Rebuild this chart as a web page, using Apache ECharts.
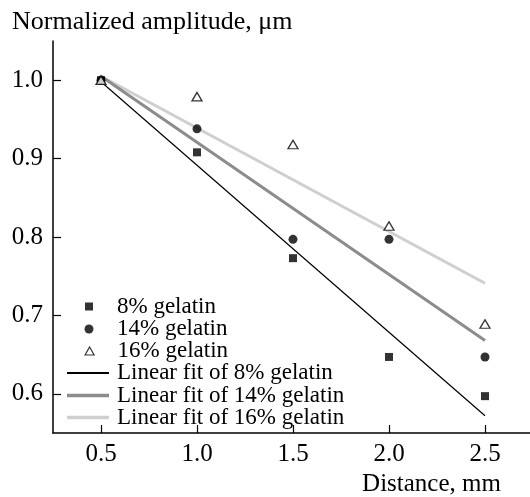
<!DOCTYPE html>
<html><head><meta charset="utf-8">
<script src="https://cdn.jsdelivr.net/npm/echarts@6/dist/echarts.min.js"></script>
<style>html,body{margin:0;padding:0;background:#fff}#c{width:530px;height:497px}</style>
</head><body><div id="c"></div>
<script>
const distance = [0.5, 1.0, 1.5, 2.0, 2.5];
const gel8 = [1.0, 0.908, 0.773, 0.647, 0.597];
const gel14 = [1.0, 0.938, 0.797, 0.797, 0.647];
const gel16 = [1.0, 0.979, 0.918, 0.814, 0.689];
const fitX = [0.5, 2.5];
const fit8 = [0.998, 0.572];
const fit14 = [1.005, 0.668];
const fit16 = [1.005, 0.741];
const xTicks = [0.5, 1.0, 1.5, 2.0, 2.5];
const yTicks = [0.6, 0.7, 0.8, 0.9, 1.0];
const names = ['8% gelatin','14% gelatin','16% gelatin','Linear fit of 8% gelatin','Linear fit of 14% gelatin','Linear fit of 16% gelatin'];

const pair = (xs, ys) => xs.map((x, i) => [x, ys[i]]);
const font = 'Liberation Serif';
const rowCenters = [306, 328.5, 350.5, 372.5, 395, 417];
const legendFor = (i, icon, w, h, left, padLeft, itemStyle) => ({
  data: [{name: names[i], icon: icon, itemStyle: itemStyle}],
  orient: 'vertical', left: left, top: rowCenters[i] - 11, padding: 0,
  itemWidth: w, itemHeight: h,
  textStyle: {fontFamily: font, fontSize: 23, lineHeight: 22, color: '#000', padding: [0, 0, 0, padLeft]}
});

const chart = echarts.init(document.getElementById('c'));
chart.setOption({
  animation: false,
  textStyle: {fontFamily: font, color: '#000'},
  grid: {left: 53, top: 41, right: -3, bottom: 64, containLabel: false, outerBoundsMode: 'none'},
  xAxis: {
    type: 'value', min: 0.25, max: 2.75,
    name: 'Distance, mm', nameLocation: 'middle',
    nameTextStyle: {fontFamily: font, fontSize: 25, color: '#000', align: 'center', verticalAlign: 'top', padding: [0, 0, 0, 277]},
    nameGap: 35,
    splitLine: {show: false},
    axisLine: {lineStyle: {color: '#000', width: 1.5}},
    axisTick: {inside: true, length: 8, lineStyle: {color: '#000', width: 1.2}, customValues: xTicks},
    axisLabel: {customValues: xTicks, fontFamily: font, fontSize: 25, color: '#000', margin: 9, formatter: v => v.toFixed(1)}
  },
  yAxis: {
    type: 'value', min: 0.55, max: 1.05,
    name: 'Normalized amplitude, μm', nameLocation: 'end',
    nameTextStyle: {fontFamily: font, fontSize: 26, color: '#000', align: 'left', verticalAlign: 'middle', padding: [0, 0, 0, -41]},
    nameGap: 19,
    splitLine: {show: false},
    axisLine: {lineStyle: {color: '#000', width: 1.5}},
    axisTick: {inside: true, length: 8, lineStyle: {color: '#000', width: 1.2}, customValues: yTicks},
    axisLabel: {customValues: yTicks, fontFamily: font, fontSize: 25, color: '#000', margin: 10, formatter: v => v.toFixed(1)}
  },
  legend: [
    legendFor(0, 'rect', 8, 8, 85, 19, {color: '#000'}),
    legendFor(1, 'circle', 9, 9, 84.5, 18.5, {color: '#000'}),
    legendFor(2, 'triangle', 9, 8, 84.5, 18.5, {color: '#fff', borderColor: '#000', borderWidth: 1.2}),
    legendFor(3, 'rect', 42, 2, 67, 3, {color: '#000'}),
    legendFor(4, 'rect', 42, 3.5, 67, 3, {color: '#8c8c8c'}),
    legendFor(5, 'rect', 42, 3.5, 67, 3, {color: '#cfcfcf'})
  ],
  series: [
    {name: names[3], type: 'line', data: pair(fitX, fit8), symbol: 'none', lineStyle: {color: '#000', width: 1.2}, itemStyle: {color: '#000'}, z: 2},
    {name: names[4], type: 'line', data: pair(fitX, fit14), symbol: 'none', lineStyle: {color: '#8c8c8c', width: 3}, itemStyle: {color: '#8c8c8c'}, z: 2},
    {name: names[5], type: 'line', data: pair(fitX, fit16), symbol: 'none', lineStyle: {color: '#cfcfcf', width: 3}, itemStyle: {color: '#cfcfcf'}, z: 1},
    {name: names[0], type: 'scatter', data: pair(distance, gel8), symbol: 'rect', symbolSize: 8, itemStyle: {color: '#000'}, z: 5},
    {name: names[1], type: 'scatter', data: pair(distance, gel14), symbol: 'circle', symbolSize: 9, itemStyle: {color: '#000'}, z: 5},
    {name: names[2], type: 'scatter', data: pair(distance, gel16), symbol: 'triangle', symbolSize: [10, 8.5], itemStyle: {color: '#fff', borderColor: '#000', borderWidth: 1.3}, z: 6}
  ]
});
</script></body></html>
